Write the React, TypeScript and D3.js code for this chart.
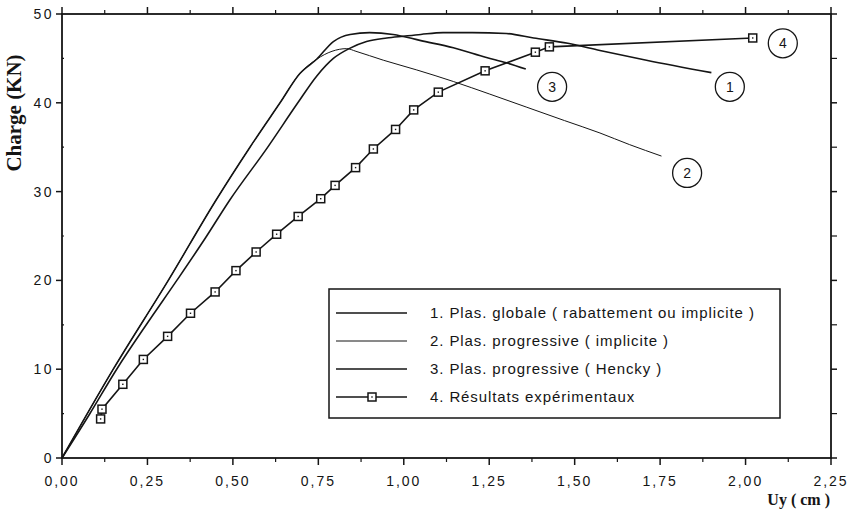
import React from "react";
import * as d3 from "d3";

// ---------- data ----------
const xTicks = [0, 0.25, 0.5, 0.75, 1.0, 1.25, 1.5, 1.75, 2.0, 2.25];
const yTicks = [0, 10, 20, 30, 40, 50];

// 1. Plas. globale
const c1U = [0, 0.08, 0.16, 0.25, 0.336, 0.42, 0.49, 0.6, 0.69, 0.745, 0.794, 0.84, 0.891, 0.95, 0.999, 1.05, 1.115, 1.2, 1.3, 1.38, 1.48, 1.574, 1.71, 1.9];
const c1F = [0, 4.9, 10, 15.2, 20, 24.8, 29, 34.9, 40.0, 43.0, 45.0, 46.1, 46.9, 47.3, 47.5, 47.7, 47.9, 47.9, 47.8, 47.3, 46.7, 45.9, 44.8, 43.4];

// 2. Plas. progressive (implicite)
const c2U = [0, 0.15, 0.311, 0.45, 0.55, 0.638, 0.696, 0.745, 0.79, 0.833, 0.86, 0.94, 1.038, 1.145, 1.25, 1.36, 1.47, 1.574, 1.66, 1.754];
const c2F = [0, 10, 20, 29, 35, 40, 43.3, 44.9, 45.8, 46.1, 45.8, 44.8, 43.7, 42.4, 41.0, 39.5, 38.0, 36.6, 35.3, 34.0];

// 3. Plas. progressive (Hencky)
const c3U = [0, 0.15, 0.311, 0.45, 0.55, 0.638, 0.696, 0.745, 0.794, 0.843, 0.9, 0.969, 1.05, 1.145, 1.242, 1.3, 1.357];
const c3F = [0, 10, 20, 29, 35, 40, 43.3, 44.9, 46.9, 47.7, 47.9, 47.7, 47.0, 46.2, 45.1, 44.5, 43.8];

// 4. Résultats expérimentaux
const expU = [0.113, 0.117, 0.178, 0.238, 0.309, 0.376, 0.448, 0.509, 0.568, 0.628, 0.691, 0.757, 0.799, 0.859, 0.911, 0.976, 1.029, 1.101, 1.238, 1.385, 1.426, 2.021];
const expF = [4.4, 5.5, 8.3, 11.1, 13.7, 16.3, 18.7, 21.1, 23.2, 25.2, 27.2, 29.2, 30.7, 32.7, 34.8, 37.0, 39.2, 41.2, 43.6, 45.7, 46.3, 47.3];

// circled curve labels
const tagText = ["1", "2", "3", "4"];
const tagU = [1.954, 1.829, 1.434, 2.109];
const tagF = [41.8, 32.1, 41.8, 46.7];

const legendLabels = [
  "1. Plas. globale ( rabattement ou implicite )",
  "2. Plas. progressive ( implicite )",
  "3. Plas. progressive ( Hencky )",
  "4. Résultats expérimentaux",
];

// ---------- layout ----------
const W = 859, H = 513;
const L = 62, R = 831, T = 14, B = 458;
const INK = "#151515";
const SANS = "'Liberation Sans', Arial, Helvetica, sans-serif";
const SERIF = "'Liberation Serif', 'Times New Roman', serif";

export default function App() {
  const x = d3.scaleLinear().domain([0, 2.25]).range([L, R]);
  const y = d3.scaleLinear().domain([0, 50]).range([B, T]);
  const line = d3.line<[number, number]>().x((d) => x(d[0])).y((d) => y(d[1])).curve(d3.curveMonotoneX);
  const lineLin = d3.line<[number, number]>().x((d) => x(d[0])).y((d) => y(d[1]));

  const zip = (u: number[], f: number[]) => u.map((v, i) => [v, f[i]] as [number, number]);
  const curves = [
    { pts: zip(c1U, c1F), w: 1.6 },
    { pts: zip(c2U, c2F), w: 1.0 },
    { pts: zip(c3U, c3F), w: 1.6 },
  ];
  const exp = zip(expU, expF);

  const minorX = d3.range(0, 2.25, 0.125).filter((v) => Math.abs((v / 0.25) - Math.round(v / 0.25)) > 0.01);
  const minorY = [5, 15, 25, 35, 45];
  const fmt = (v: number) => v.toFixed(2).replace(".", ",");

  const legX = 329, legY = 289, legW = 451, legH = 129;
  const rowY = [313, 341, 369, 397];

  return (
    <svg width={W} height={H} style={{ position: "absolute", left: 0, top: 0, background: "#fff" }}>
      <rect x={0} y={0} width={W} height={H} fill="#fff" />
      {/* frame */}
      <rect x={L} y={T} width={R - L} height={B - T} fill="none" stroke={INK} strokeWidth={1.8} />

      {/* bottom & top ticks */}
      {xTicks.map((v) => (
        <g key={"xt" + v}>
          <line x1={x(v)} x2={x(v)} y1={B} y2={B + 7} stroke={INK} strokeWidth={1.5} />
          <line x1={x(v)} x2={x(v)} y1={T} y2={T - 7} stroke={INK} strokeWidth={1.5} />
          <text x={x(v)} y={486} textAnchor="middle" fontFamily={SANS} fontSize={14} letterSpacing={2} fill={INK}>
            {fmt(v)}
          </text>
        </g>
      ))}
      {minorX.map((v) => (
        <g key={"xm" + v}>
          <line x1={x(v)} x2={x(v)} y1={B} y2={B + 4} stroke={INK} strokeWidth={1.2} />
          <line x1={x(v)} x2={x(v)} y1={T} y2={T - 4} stroke={INK} strokeWidth={1.2} />
        </g>
      ))}

      {/* left & right ticks */}
      {yTicks.map((v) => (
        <g key={"yt" + v}>
          <line x1={L} x2={L - 6} y1={y(v)} y2={y(v)} stroke={INK} strokeWidth={1.5} />
          <line x1={R} x2={R + 6} y1={y(v)} y2={y(v)} stroke={INK} strokeWidth={1.5} />
          <text x={L - 8} y={y(v) + 5} textAnchor="end" fontFamily={SANS} fontSize={14} letterSpacing={2.5} fill={INK}>
            {v}
          </text>
        </g>
      ))}
      {minorY.map((v) => (
        <g key={"ym" + v}>
          <line x1={L} x2={L + 2} y1={y(v)} y2={y(v)} stroke={INK} strokeWidth={1.2} />
          <line x1={R} x2={R + 6} y1={y(v)} y2={y(v)} stroke={INK} strokeWidth={1.2} />
        </g>
      ))}

      {/* axis titles */}
      <text transform={`translate(21,${113}) rotate(-90)`} textAnchor="middle" fontFamily={SERIF} fontWeight="bold" fontSize={21} fill={INK}>
        Charge (KN)
      </text>
      <text x={830} y={505} textAnchor="end" fontFamily={SERIF} fontWeight="bold" fontSize={16} fill={INK}>
        Uy ( cm )
      </text>

      {/* analytical curves */}
      {curves.map((c, i) => (
        <path key={"c" + i} d={line(c.pts) || ""} fill="none" stroke={INK} strokeWidth={c.w} strokeLinejoin="round" />
      ))}

      {/* experimental */}
      <path d={lineLin(exp) || ""} fill="none" stroke={INK} strokeWidth={1.6} />
      {exp.map((p, i) => (
        <g key={"e" + i}>
          <rect x={x(p[0]) - 4} y={y(p[1]) - 4} width={8} height={8} fill="#fff" stroke={INK} strokeWidth={1.5} />
          <rect x={x(p[0]) - 0.7} y={y(p[1]) - 0.7} width={1.4} height={1.4} fill={INK} />
        </g>
      ))}

      {/* circled tags */}
      {tagText.map((t, i) => (
        <g key={"tag" + i}>
          <circle cx={x(tagU[i])} cy={y(tagF[i])} r={14.5} fill="#fff" stroke={INK} strokeWidth={1.3} />
          <text x={x(tagU[i])} y={y(tagF[i]) + 5} textAnchor="middle" fontFamily={SANS} fontSize={14} fill={INK}>
            {t}
          </text>
        </g>
      ))}

      {/* legend */}
      <rect x={legX} y={legY} width={legW} height={legH} fill="#fff" stroke={INK} strokeWidth={1.5} />
      {legendLabels.map((s, i) => (
        <g key={"lg" + i}>
          <line x1={336} x2={407} y1={rowY[i]} y2={rowY[i]} stroke={INK} strokeWidth={i === 1 ? 1.0 : 1.5} />
          {i === 3 && (
            <g>
              <rect x={368} y={rowY[i] - 4} width={8} height={8} fill="#fff" stroke={INK} strokeWidth={1.5} />
              <rect x={371.3} y={rowY[i] - 0.7} width={1.4} height={1.4} fill={INK} />
            </g>
          )}
          <text x={430} y={rowY[i] + 5} fontFamily={SANS} fontSize={15} letterSpacing={0.9} fill={INK}>
            {s}
          </text>
        </g>
      ))}
    </svg>
  );
}
